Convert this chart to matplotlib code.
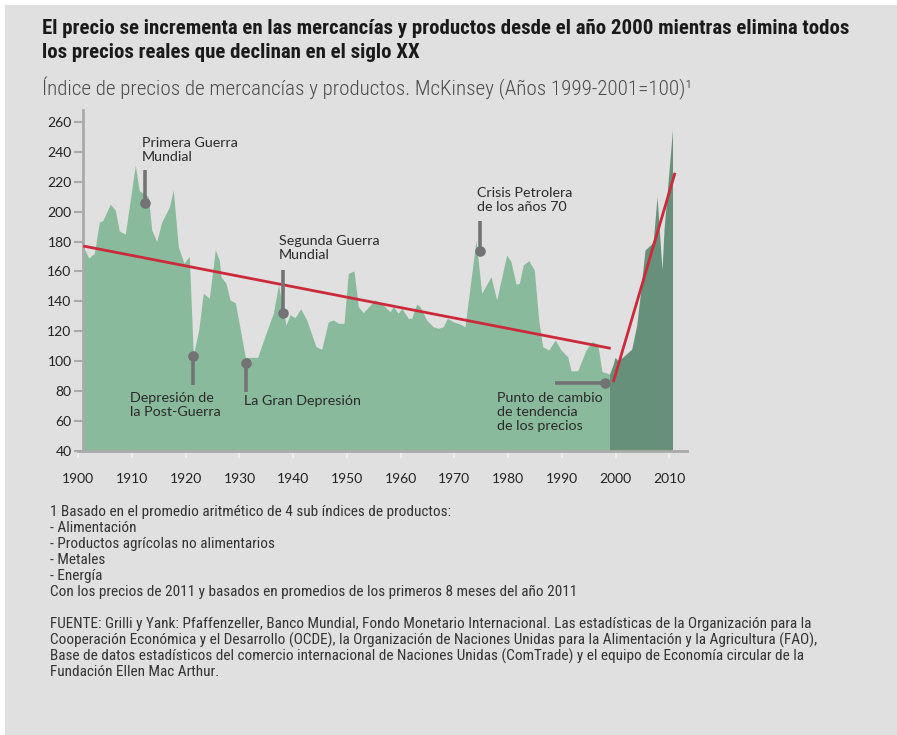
import matplotlib
matplotlib.use("Agg")
import matplotlib.pyplot as plt
from matplotlib import font_manager as fm
from matplotlib.patches import Rectangle

# ---------------- data ----------------
years_pre = [1900.93, 1901.94, 1902.98, 1903.91, 1904.54, 1905.96, 1906.89, 1907.63, 1908.75, 1910.61,
             1911.35, 1912.30, 1913.03, 1913.66, 1914.59, 1915.52, 1916.94, 1917.68, 1918.61, 1919.67,
             1920.66, 1921.40, 1922.41, 1923.26, 1924.38, 1925.50, 1926.24, 1926.56, 1927.49, 1928.23,
             1929.22, 1930.28, 1931.08, 1933.39, 1934.93, 1936.29, 1937.26, 1938.04, 1938.66, 1939.41,
             1940.34, 1941.39, 1942.51, 1944.24, 1945.30, 1946.53, 1947.46, 1948.39, 1949.45, 1950.25,
             1951.31, 1952.11, 1953.04, 1955.22, 1956.15, 1957.08, 1958.01, 1958.63, 1959.56, 1960.19,
             1961.42, 1962.05, 1962.98, 1963.60, 1964.84, 1966.07, 1967.00, 1967.93, 1968.68, 1969.79,
             1971.04, 1971.97, 1974.02, 1975.08, 1976.81, 1977.87, 1979.73, 1980.53, 1981.46, 1982.08,
             1982.82, 1983.83, 1984.87, 1985.69, 1986.43, 1987.55, 1988.78, 1989.84, 1991.09, 1991.70,
             1992.95, 1994.49, 1995.61, 1996.67, 1997.47, 1998.53, 1998.83]
index_pre = [176.5, 169, 172, 193, 194, 205, 201, 187, 185, 231,
             214, 212, 210, 188, 180, 193, 203, 214.5, 176.5, 165.4,
             170, 104, 120.8, 145.4, 142, 174.3, 167.6, 156.5, 152, 141,
             139, 118.6, 102.5, 102.5, 118.6, 132, 151, 136, 124, 131,
             129, 135, 127.5, 109.6, 107.9, 126.3, 127.5, 125.3, 125.3, 158.7,
             160.3, 136.4, 132.4, 140.9, 138.7, 136.4, 133, 136.4, 132, 135.3,
             128.6, 128.6, 138.2, 136.4, 127.5, 123, 121.9, 123, 128.6, 126.3,
             124.8, 123, 181, 145.4, 156.5, 140.9, 171, 166.5, 151.5, 152,
             164.3, 167.2, 161, 127.5, 109.6, 107.4, 114.1, 107.4, 102.9, 93.5,
             93.5, 107.4, 113, 111.4, 92.9, 91.8, 91]

years_post = [1998.83, 1999.57, 1999.89, 2000.50, 2001.43, 2002.07, 2003.00, 2003.93,
              2004.54, 2005.47, 2006.72, 2007.02, 2007.71, 2008.64, 2009.01, 2010.59]
index_post = [91, 98, 102.5, 100, 103, 105, 108, 124,
              143, 174.3, 178.5, 181, 210, 161, 188, 255]

trend_down_years = [1900.93, 1999.09]
trend_down_vals = [177, 108.5]
trend_up_years = [1999.57, 2011.06]
trend_up_vals = [86, 226]

x_ticks = [1900, 1910, 1920, 1930, 1940, 1950, 1960, 1970, 1980, 1990, 2000, 2010]
y_ticks = [40, 60, 80, 100, 120, 140, 160, 180, 200, 220, 240, 260]

event_labels = ["Primera Guerra\nMundial", "Depresión de\nla Post-Guerra", "La Gran Depresión",
                "Segunda Guerra\nMundial", "Crisis Petrolera\nde los años 70",
                "Punto de cambio\nde tendencia\nde los precios"]
event_years = [1912.4, 1921.4, 1931.3, 1938.05, 1974.8, 1998.0]
event_values = [206, 103.6, 99, 132, 173.7, 85.5]

title_lines = ["El precio se incrementa en las mercancías y productos desde el año 2000 mientras elimina todos",
               "los precios reales que declinan en el siglo XX"]
subtitle = "Índice de precios de mercancías y productos. McKinsey (Años 1999-2001=100)"
notes = ["1 Basado en el promedio aritmético de 4 sub índices de productos:",
         "- Alimentación",
         "- Productos agrícolas no alimentarios",
         "- Metales",
         "- Energía",
         "Con los precios de 2011 y basados en promedios de los primeros 8 meses del año 2011"]
source = ["FUENTE: Grilli y Yank: Pfaffenzeller, Banco Mundial, Fondo Monetario Internacional. Las estadísticas de la Organización para la",
          "Cooperación Económica y el Desarrollo (OCDE), la Organización de Naciones Unidas para la Alimentación y la Agricultura (FAO),",
          "Base de datos estadísticos del comercio internacional de Naciones Unidas (ComTrade) y el equipo de Economía circular de la",
          "Fundación Ellen Mac Arthur."]

# ---------------- style ----------------
W, H = 897, 735
BG = "#e0e0e0"
LIGHT = "#8aba9c"
DARK = "#67907a"
RED = "#cc2a3a"
PIN = "#737375"
AXC = "#aaaaaa"

names = {f.name for f in fm.fontManager.ttflist}
cond = next((n for n in ["Roboto Condensed", "Liberation Sans Narrow", "Open Sans Condensed"] if n in names), None)
if cond:
    title_fam = [cond, "DejaVu Sans"]
    title_size, sub_size, note_size = 15.0, 15.1, 11.0
else:
    title_fam = ["Roboto", "DejaVu Sans"]
    title_size, sub_size, note_size = 12.4, 12.8, 9.5
chart_fam = ["Lato", "DejaVu Sans"]

fig = plt.figure(figsize=(W / 100, H / 100), dpi=100, facecolor="white")
fig.patches.append(Rectangle((5 / W, 0), 1, 1 - 5 / H, transform=fig.transFigure,
                             facecolor=BG, edgecolor="none", zorder=-10))

def fx(x):
    return x / W

def fy(y):
    return 1 - y / H

ax_left, ax_right, ax_top, ax_bottom = 78.3, 686.7, 110, 450.7
px_per_year, px_per_unit = 5.373, 1.494
ax = fig.add_axes([fx(ax_left), fy(ax_bottom), (ax_right - ax_left) / W, (ax_bottom - ax_top) / H])
ax.set_facecolor("none")
ax.set_xlim(1900, 1900 + (ax_right - ax_left) / px_per_year)
ax.set_ylim(40, 40 + (ax_bottom - ax_top) / px_per_unit)

ax.fill_between(years_pre, index_pre, 40, color=LIGHT, lw=0, zorder=1)
ax.fill_between(years_post, index_post, 40, color=DARK, lw=0, zorder=1)
ax.plot(trend_down_years, trend_down_vals, color=RED, lw=2.0, solid_capstyle="butt", zorder=3)
ax.plot(trend_up_years, trend_up_vals, color=RED, lw=2.0, solid_capstyle="butt", zorder=3)

for s in ["top", "right"]:
    ax.spines[s].set_visible(False)
ax.spines["left"].set_position(("data", 1900.82))
ax.spines["left"].set_color(AXC)
ax.spines["left"].set_linewidth(2.0)
ax.spines["bottom"].set_color(AXC)
ax.spines["bottom"].set_linewidth(2.0)

ax.set_yticks(y_ticks)
ax.set_yticklabels([str(v) for v in y_ticks])
ax.set_xticks(x_ticks)
ax.set_xticklabels([str(v) for v in x_ticks])
ax.tick_params(axis="y", length=6.5, width=1.5, color=AXC, pad=1.5, labelsize=10, labelcolor="#222222")
ax.tick_params(axis="x", length=5, width=1.2, color="#f2f2f2", pad=11, labelsize=10, labelcolor="#222222")
for lab in ax.get_xticklabels() + ax.get_yticklabels():
    lab.set_family(chart_fam)

# pins
stem_ends = [228, 84, 79.5, 161, 194, None]
for yr, val, end in zip(event_years, event_values, stem_ends):
    if end is None:
        ax.plot([1988.8, yr], [val, val], color=PIN, lw=2.6, solid_capstyle="butt", zorder=4)
    else:
        ax.plot([yr, yr], [val, end], color=PIN, lw=2.6, solid_capstyle="butt", zorder=4)
    ax.plot([yr], [val], "o", ms=7.6, color=PIN, mec="none", zorder=5)

text_pos = [(1911.8, 250), (1909.6, 79.5), (1930.84, 77.5), (1937.35, 184.5), (1974.15, 216.5), (1977.98, 79.5)]
for lab, (tx, ty) in zip(event_labels, text_pos):
    ax.text(tx, ty, lab, ha="left", va="top", fontsize=10.3, family=chart_fam,
            color="#2a2a2a", linespacing=1.2, zorder=6)

# titles
fig.text(fx(42), fy(29), title_lines[0], ha="left", va="center", fontsize=title_size,
         fontweight="bold", family=title_fam, color="#1a1a1a")
fig.text(fx(42), fy(52), title_lines[1], ha="left", va="center", fontsize=title_size,
         fontweight="bold", family=title_fam, color="#1a1a1a")
fig.text(fx(42), fy(88), subtitle + "¹", ha="left", va="center", fontsize=sub_size,
         fontweight="light", family=title_fam, color="#4a4a4a")

note_y = [512, 528, 544, 560, 576, 592]
for t, y in zip(notes, note_y):
    fig.text(fx(50), fy(y), t, ha="left", va="center", fontsize=note_size, family=title_fam, color="#333333")
src_y = [624, 640, 656, 672]
for t, y in zip(source, src_y):
    fig.text(fx(50), fy(y), t, ha="left", va="center", fontsize=note_size, family=title_fam, color="#333333")

fig.savefig("out.png", dpi=100, facecolor=fig.get_facecolor())
